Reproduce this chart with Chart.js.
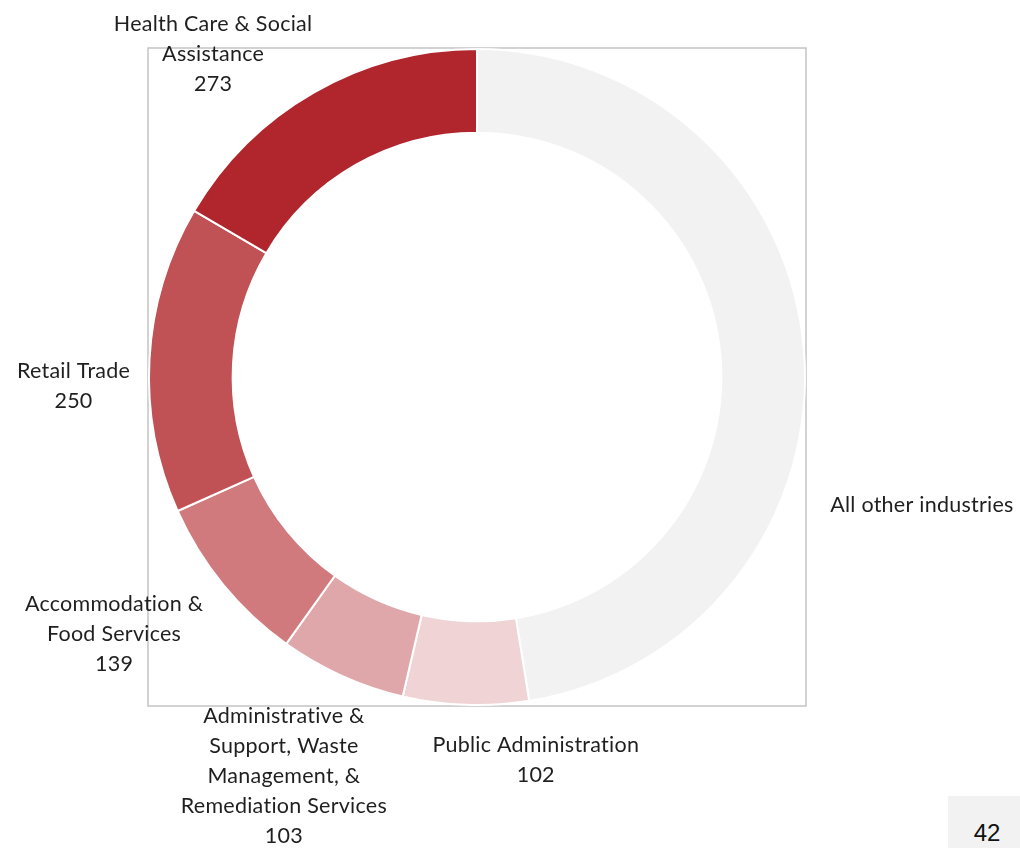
<!DOCTYPE html>
<html>
<head>
<meta charset="utf-8">
<script src="https://cdn.jsdelivr.net/npm/chart.js@4.4.0/dist/chart.umd.min.js"></script>
<style>
  body { margin: 0; background: #fff; }
  #wrap { position: relative; width: 1020px; height: 848px; }
  #page {
    position: absolute; left: 948px; top: 796px; width: 72px; height: 52px;
    background: #f2f2f2; font: 24px Arial, "Liberation Sans", sans-serif; color: #111;
    text-align: center; line-height: 74px; box-sizing: border-box; padding-left: 6px;
  }
</style>
</head>
<body>
<div id="wrap">
  <canvas id="chart" width="1020" height="848"></canvas>
  <div id="page">42</div>
</div>
<script>
// categories in clockwise order from 12 o'clock
const categories = [
  ['All other industries'],
  ['Public Administration'],
  ['Administrative &', 'Support, Waste', 'Management, &', 'Remediation Services'],
  ['Accommodation &', 'Food Services'],
  ['Retail Trade'],
  ['Health Care & Social', 'Assistance']
];
const values = [783, 102, 103, 139, 250, 273];
const showValue = [false, true, true, true, true, true];

const colors = ['#f2f2f2', '#efd3d5', '#dfa7aa', '#d07a7d', '#c05155', '#b0262c'];
// where each label block sits relative to the slice's outer mid point
const labelOffsets = [[118, 154], [70, 55], [-58, 100], [-109, 49], [-76, 27], [-101, -38]];

const frame = {
  id: 'frame',
  beforeDatasetsDraw(chart) {
    const { ctx, chartArea: a } = chart;
    ctx.save();
    ctx.strokeStyle = '#c4c4c4';
    ctx.lineWidth = 1.5;
    ctx.strokeRect(a.left, a.top, a.right - a.left, a.bottom - a.top);
    ctx.restore();
  }
};

const outerLabels = {
  id: 'outerLabels',
  afterDatasetsDraw(chart) {
    const { ctx } = chart;
    const arcs = chart.getDatasetMeta(0).data;
    ctx.save();
    ctx.font = '21.5px Lato, "Open Sans", sans-serif';
    if ('letterSpacing' in ctx) ctx.letterSpacing = '0.25px';
    ctx.fillStyle = '#1f1f1f';
    ctx.textAlign = 'center';
    ctx.textBaseline = 'middle';
    arcs.forEach((arc, i) => {
      const mid = (arc.startAngle + arc.endAngle) / 2;
      const r = arc.outerRadius;
      const lines = categories[i].slice();
      if (showValue[i]) lines.push(String(values[i]));
      const cx = arc.x + Math.cos(mid) * r + labelOffsets[i][0];
      const cy = arc.y + Math.sin(mid) * r + labelOffsets[i][1];
      const lh = 30;
      const top = cy - (lines.length - 1) * lh / 2;
      lines.forEach((t, k) => ctx.fillText(t, cx, top + k * lh));
    });
    ctx.restore();
  }
};

new Chart(document.getElementById('chart'), {
  type: 'doughnut',
  data: {
    labels: categories.map(c => c.join(' ')),
    datasets: [{
      data: values,
      backgroundColor: colors,
      borderColor: '#ffffff',
      borderWidth: 2,
      hoverOffset: 0
    }]
  },
  options: {
    responsive: false,
    animation: false,
    cutout: '74.5%',
    layout: { padding: { left: 148, right: 214, top: 48, bottom: 142 } },
    plugins: {
      legend: { display: false },
      tooltip: { enabled: false }
    }
  },
  plugins: [frame, outerLabels]
});
</script>
</body>
</html>
